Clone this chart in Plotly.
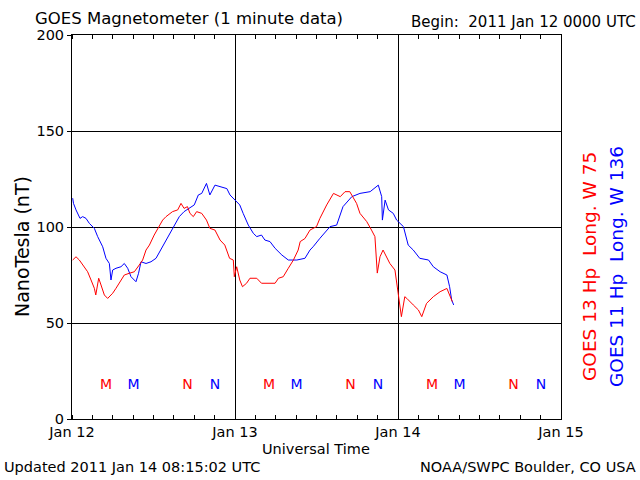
import plotly.graph_objects as go

# hours since 2011 Jan 12 00:00 UTC
g11_hours = [0.1,0.22,0.59,0.84,1.18,1.57,2.06,2.55,3.29,3.78,4.52,5.0,5.5,5.74,5.99,6.48,7.21,7.7,8.2,8.69,9.42,9.8,
             10.16,10.9,11.63,12.37,13.35,14.09,14.8,15.8,16.5,17.3,18.0,18.6,19.1,19.8,20.3,21.05,22.04,22.8,23.26,
             24.0,24.7,25.2,25.96,26.7,27.2,27.9,28.4,29.15,29.9,30.9,31.85,33.1,34.3,35.04,35.5,36.5,38.0,38.97,
             39.9,41.2,42.4,43.9,45.1,45.6,45.7,46.1,46.6,47.3,47.8,48.8,49.5,50.25,51.2,52.5,53.2,54.2,55.2,55.6,55.9,56.2]
g11_nt = [115,112.3,108.9,107.1,104.5,105.4,104.5,101.9,99.3,95,89.7,83.7,81,72.4,77.6,78.5,79.3,81,78.5,74.1,71.5,75.9,
          81.9,81,81.9,83.7,89.7,95,99.3,105.4,108,109.7,111.5,116.7,117.5,122.7,116.7,121.8,121,120,116.7,
          114,111.5,107.1,101,96.7,95,95.8,93.2,92.4,88.9,85.4,82.8,82.8,83.7,88,89.7,94.1,100.2,101,
          110.6,115.8,117.5,118.4,121.8,115.8,103.6,114,108.9,107.1,103.6,100.2,90.6,88,83.7,82.8,79.3,76.7,75,68.9,62,59.4]

g13_hours = [0.1,0.59,1.08,1.81,2.3,2.8,3.29,3.5,3.93,4.27,4.76,5.25,5.99,6.48,7.21,7.7,8.44,9.18,9.9,10.4,10.9,11.4,
             12.1,12.86,13.35,13.84,14.8,15.56,16.05,16.5,17.0,17.37,17.86,18.35,19.1,19.8,20.3,21.05,21.8,22.5,23.2,
             23.75,23.9,24.25,24.7,25.1,25.7,26.2,27.2,27.9,29.15,29.9,30.4,31.1,31.85,32.6,33.3,33.6,34.3,35.04,
             36.0,36.5,37.5,38.5,39.5,40.2,40.9,41.4,41.9,42.4,43.4,44.1,44.6,44.95,45.35,45.8,46.8,47.55,48.0,48.5,
             49.0,49.3,50.25,51.0,51.5,52.2,53.2,54.2,55.2,55.65,56.0]
g13_nt = [82.8,84.5,82.8,79.3,76.7,72.4,68.1,64.6,73.3,69.8,64.6,62.8,65.5,68.1,72.4,75,75.9,76.7,80.2,82.8,88,90.6,
          95.8,101,103.6,105.4,108,108.9,112.3,109.7,110.6,107.1,105.4,108,107.1,103.6,99.3,98.4,93.2,90.6,83.7,
          82.8,74.1,79.3,72.4,68.9,70.7,73.3,73.3,70.7,70.7,70.7,73.3,74.1,78.5,82.8,88,92.4,94,98.4,
          100.2,104.5,111.5,117.5,115.8,118.4,118.4,115,112.3,107.1,102.8,98.4,95,76,84.5,88,81,77.6,67.2,53.3,
          63.7,62.8,59.4,56.8,53.3,60.2,63.7,66.3,68,63.7,61.1]

# local midnight (M) / noon (N) markers
g13_mark_hours = [5.0, 17.0, 29.0, 41.0, 53.0, 65.0]
g13_mark_text = ["M", "N", "M", "N", "M", "N"]
g11_mark_hours = [9.07, 21.07, 33.07, 45.07, 57.07, 69.07]
g11_mark_text = ["M", "N", "M", "N", "M", "N"]
mark_level = 17.5

x_tickvals = [0, 24, 48, 72]
x_ticktext = ["Jan 12", "Jan 13", "Jan 14", "Jan 15"]
y_tickvals = [0, 50, 100, 150, 200]

RED = "#ff0000"
BLUE = "#0000ff"
FONT = "DejaVu Sans"

fig = go.Figure()
fig.add_trace(go.Scatter(x=g11_hours, y=g11_nt, mode="lines", line=dict(color=BLUE, width=1), showlegend=False))
fig.add_trace(go.Scatter(x=g13_hours, y=g13_nt, mode="lines", line=dict(color=RED, width=1), showlegend=False))
fig.add_trace(go.Scatter(x=g13_mark_hours, y=[mark_level]*6, mode="text", text=g13_mark_text,
                         textfont=dict(color=RED, size=14, family=FONT), showlegend=False))
fig.add_trace(go.Scatter(x=g11_mark_hours, y=[mark_level]*6, mode="text", text=g11_mark_text,
                         textfont=dict(color=BLUE, size=14, family=FONT), showlegend=False))

L, R, T, B = 72, 561, 35, 419
W, H = 640, 480
def px(x):
    return (x - L) / (R - L)
def py(y):
    return (B - y) / (B - T)

fig.update_layout(
    width=W, height=H,
    margin=dict(l=L, r=W - R, t=T, b=H - B, pad=0),
    paper_bgcolor="white", plot_bgcolor="white",
    font=dict(family=FONT, size=14, color="black"),
    xaxis=dict(range=[0, 72], tickvals=x_tickvals, ticktext=x_ticktext, ticks="", showgrid=True,
               gridcolor="black", gridwidth=1, showline=True, linecolor="black", linewidth=1,
               mirror="ticks", zeroline=False, tickfont=dict(size=14.5),
               minor=dict(dtick=3, tick0=0, ticks="inside", ticklen=4, tickcolor="black", showgrid=False)),
    yaxis=dict(range=[0, 200], tickvals=y_tickvals, ticks="outside", ticklen=4, tickcolor="black",
               showgrid=True, gridcolor="black", gridwidth=1, showline=True, linecolor="black",
               linewidth=1, mirror=True, zeroline=False, tickfont=dict(size=14.5)),
)

ann = [
    dict(text="GOES Magnetometer (1 minute data)", x=px(33), y=py(18), xanchor="left", yanchor="middle", size=16.5, color="black"),
    dict(text="Begin:  2011 Jan 12 0000 UTC", x=px(638), y=py(22), xanchor="right", yanchor="middle", size=15, color="black"),
    dict(text="Universal Time", x=px(316), y=py(449), xanchor="center", yanchor="middle", size=14.5, color="black"),
    dict(text="Updated 2011 Jan 14 08:15:02 UTC", x=px(2), y=py(467), xanchor="left", yanchor="middle", size=14.5, color="black"),
    dict(text="NOAA/SWPC Boulder, CO USA", x=px(638), y=py(467), xanchor="right", yanchor="middle", size=14.5, color="black"),
]
for a in ann:
    fig.add_annotation(text=a["text"], x=a["x"], y=a["y"], xref="paper", yref="paper",
                       xanchor=a["xanchor"], yanchor=a["yanchor"], showarrow=False,
                       font=dict(size=a["size"], color=a["color"], family=FONT))

rot = [
    ("NanoTesla (nT)", 22, 247, "black", 19),
    ("GOES 13 Hp  Long. W 75", 589, 267, RED, 18.5),
    ("GOES 11 Hp  Long. W 136", 616, 267, BLUE, 18.5),
]
for t, x, y, c, s in rot:
    fig.add_annotation(text=t, x=px(x), y=py(y), xref="paper", yref="paper", textangle=-90,
                       xanchor="center", yanchor="middle", showarrow=False,
                       font=dict(size=s, color=c, family=FONT))

fig.write_html("out.html", config={"displayModeBar": False},
               post_script="document.body.style.margin='0';document.body.style.overflow='hidden';")
